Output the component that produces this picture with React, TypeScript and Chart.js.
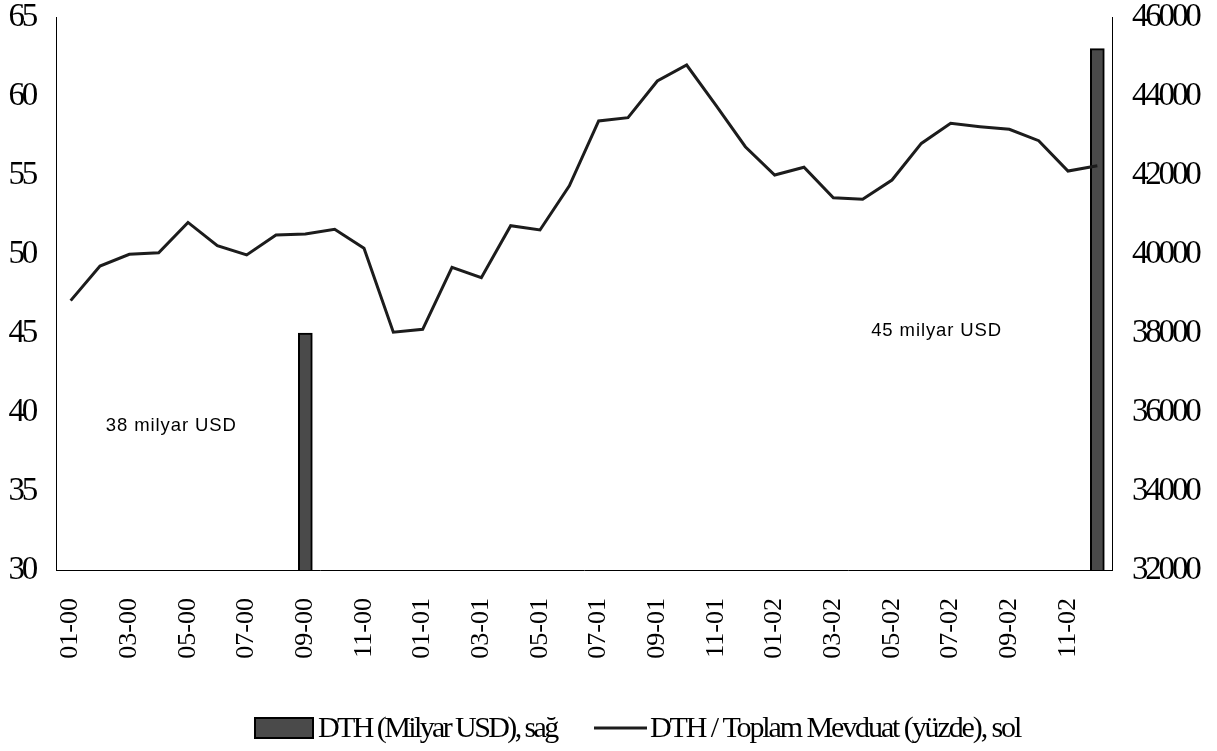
import { useEffect, useRef } from 'react';
import { Chart, registerables } from 'chart.js';

Chart.register(...registerables);

// ---------- data ----------
const months: string[] = [
  '01-00', '02-00', '03-00', '04-00', '05-00', '06-00', '07-00', '08-00', '09-00', '10-00', '11-00', '12-00',
  '01-01', '02-01', '03-01', '04-01', '05-01', '06-01', '07-01', '08-01', '09-01', '10-01', '11-01', '12-01',
  '01-02', '02-02', '03-02', '04-02', '05-02', '06-02', '07-02', '08-02', '09-02', '10-02', '11-02', '12-02',
];

// DTH / Toplam Mevduat (yüzde), left axis
const ratioValues: number[] = [
  47.05, 49.24, 49.98, 50.08, 52.0, 50.53, 49.94, 51.2, 51.27, 51.56, 50.36, 45.05,
  45.23, 49.16, 48.5, 51.79, 51.52, 54.32, 58.42, 58.63, 60.95, 61.96, 59.4, 56.79,
  55.0, 55.49, 53.56, 53.46, 54.68, 57.0, 58.27, 58.06, 57.89, 57.17, 55.25, 55.59,
];

// DTH (Milyon USD), right axis – only two observations shown
const dthValues: (number | null)[] = [
  null, null, null, null, null, null, null, null, 38000, null, null, null,
  null, null, null, null, null, null, null, null, null, null, null, null,
  null, null, null, null, null, null, null, null, null, null, null, 45200,
];

const barLabel = 'DTH (Milyar USD), sağ';
const lineLabel = 'DTH / Toplam Mevduat (yüzde), sol';

const leftMin = 30;
const leftMax = 65;
const leftStep = 5;
const rightMin = 32000;
const rightMax = 46000;
const rightStep = 2000;

// annotations: text, category position, value on left axis
const noteTexts: string[] = ['38 milyar USD', '45 milyar USD'];
const noteCategory: number[] = [1.2, 27.29];
const noteLeftValue: number[] = [39.1, 45.13];

// ---------- styles ----------
const SERIF = "'Liberation Serif', 'Times New Roman', serif";
const SANS = "'Liberation Sans', Arial, sans-serif";
const BAR_FILL = '#4a4a4a';
const LINE_COLOR = '#1c1c1c';

function withSpacing(ctx: CanvasRenderingContext2D, sp: string, fn: () => void) {
  const anyCtx = ctx as any;
  const prev = anyCtx.letterSpacing;
  anyCtx.letterSpacing = sp;
  try {
    fn();
  } finally {
    anyCtx.letterSpacing = prev ?? '0px';
  }
}

const spacingPlugin = {
  id: 'tickSpacing',
  beforeLayout(chart: any) {
    const spacing: Record<string, string> = { y: '-3.2px', y1: '-3.2px', x: '0px' };
    Object.keys(chart.scales).forEach((id) => {
      const sc = chart.scales[id];
      if (sc.__patched) return;
      sc.__patched = true;
      const orig = sc.drawLabels.bind(sc);
      sc.drawLabels = (area: any) => withSpacing(sc.ctx, spacing[id] || '0px', () => orig(area));
    });
  },
};

const notesPlugin = {
  id: 'notes',
  afterDatasetsDraw(chart: any) {
    const ctx: CanvasRenderingContext2D = chart.ctx;
    const xs = chart.scales.x;
    const ys = chart.scales.y;
    ctx.save();
    withSpacing(ctx, '0.9px', () => {
      ctx.font = `18.5px ${SANS}`;
      ctx.fillStyle = '#000';
      ctx.textAlign = 'left';
      ctx.textBaseline = 'middle';
      noteTexts.forEach((t, i) => {
        ctx.fillText(t, xs.getPixelForValue(noteCategory[i]), ys.getPixelForValue(noteLeftValue[i]));
      });
    });
    ctx.restore();
  },
};

const legendPlugin = {
  id: 'customLegend',
  afterDraw(chart: any) {
    const ctx: CanvasRenderingContext2D = chart.ctx;
    const cy = 728;
    ctx.save();
    // bar item
    ctx.fillStyle = BAR_FILL;
    ctx.strokeStyle = '#000';
    ctx.lineWidth = 2;
    ctx.fillRect(255, cy - 10, 58, 20);
    ctx.strokeRect(255, cy - 10, 58, 20);
    ctx.font = `30px ${SERIF}`;
    ctx.fillStyle = '#000';
    ctx.textAlign = 'left';
    ctx.textBaseline = 'middle';
    withSpacing(ctx, '-2.6px', () => {
      ctx.fillText(chart.data.datasets[1].label, 318, cy + 1);
    });
    // line item
    ctx.beginPath();
    ctx.strokeStyle = LINE_COLOR;
    ctx.lineWidth = 3;
    ctx.moveTo(594, cy);
    ctx.lineTo(647, cy);
    ctx.stroke();
    withSpacing(ctx, '-2.1px', () => {
      ctx.fillText(chart.data.datasets[0].label, 650, cy + 1);
    });
    ctx.restore();
  },
};

export default function App() {
  const ref = useRef<HTMLCanvasElement | null>(null);

  useEffect(() => {
    document.body.style.margin = '0';
    const canvas = ref.current;
    if (!canvas) return;
    const chart = new Chart(canvas, {
      type: 'bar',
      data: {
        labels: months,
        datasets: [
          {
            type: 'line',
            label: lineLabel,
            data: ratioValues,
            yAxisID: 'y',
            borderColor: LINE_COLOR,
            borderWidth: 3,
            pointRadius: 0,
            tension: 0,
            fill: false,
            order: 0,
          } as any,
          {
            type: 'bar',
            label: barLabel,
            data: dthValues,
            yAxisID: 'y1',
            backgroundColor: BAR_FILL,
            borderColor: '#000',
            borderWidth: 2,
            borderSkipped: false,
            barThickness: 14,
            order: 1,
          } as any,
        ],
      },
      options: {
        animation: false,
        responsive: false,
        devicePixelRatio: 1,
        events: [],
        layout: { padding: 0 },
        plugins: {
          legend: { display: false },
          tooltip: { enabled: false },
          title: { display: false },
        },
        scales: {
          x: {
            offset: true,
            grid: { display: false, drawTicks: false },
            border: { display: true, color: '#000', width: 1 },
            ticks: {
              autoSkip: false,
              maxRotation: 90,
              minRotation: 90,
              padding: 28,
              color: '#000',
              font: { family: SERIF, size: 26 },
              callback: (_v: any, i: number) => (i % 2 === 0 ? months[i] : ''),
            },
            afterFit: (s: any) => {
              s.height = 181;
              s.paddingLeft = 0;
              s.paddingRight = 0;
            },
          },
          y: {
            position: 'left',
            min: leftMin,
            max: leftMax,
            grid: { display: false, drawTicks: false },
            border: { display: true, color: '#000', width: 1 },
            ticks: {
              stepSize: leftStep,
              padding: 21,
              color: '#000',
              font: { family: SERIF, size: 33 },
            },
            afterFit: (s: any) => {
              s.width = 56;
              s.paddingTop = 17;
              s.paddingBottom = 0;
            },
          },
          y1: {
            position: 'right',
            min: rightMin,
            max: rightMax,
            grid: { display: false, drawTicks: false },
            border: { display: true, color: '#000', width: 1 },
            ticks: {
              stepSize: rightStep,
              padding: 20,
              color: '#000',
              font: { family: SERIF, size: 33 },
              callback: (v: any) => String(v),
            },
            afterFit: (s: any) => {
              s.width = 105;
              s.paddingTop = 17;
              s.paddingBottom = 0;
            },
          },
        },
      },
      plugins: [spacingPlugin, notesPlugin, legendPlugin],
    });
    return () => chart.destroy();
  }, []);

  return (
    <div style={{ width: 1217, height: 751, position: 'relative', background: '#fff' }}>
      <canvas ref={ref} width={1217} height={751} style={{ display: 'block', width: 1217, height: 751 }} />
    </div>
  );
}
